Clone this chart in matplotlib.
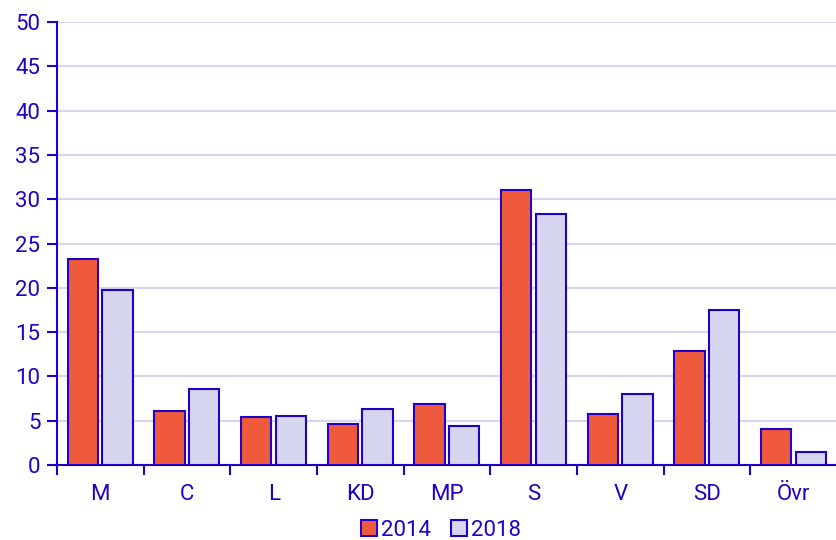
import numpy as np
import matplotlib
matplotlib.use('Agg')
from matplotlib import pyplot as plt

parties = ['M', 'C', 'L', 'KD', 'MP', 'S', 'V', 'SD', 'Övr']
val_2014 = [23.3, 6.1, 5.4, 4.6, 6.9, 31.0, 5.7, 12.9, 4.1]
val_2018 = [19.8, 8.6, 5.5, 6.3, 4.4, 28.3, 8.0, 17.5, 1.5]

blue = '#2200c8'
red = '#ef5a3c'
lav = '#d5d5f0'
fs = 16

plt.rcParams['font.family'] = ['Roboto', 'DejaVu Sans']
fig = plt.figure(figsize=(8.37, 5.40), dpi=100)
ax = fig.add_axes([57 / 837, 1 - 465 / 540, 1 - 57 / 837, (465 - 22) / 540])

x = np.arange(len(parties))
w = 0.35
ax.bar(x - 0.2, val_2014, w, color=red, edgecolor=blue, linewidth=1.5, label='2014', zorder=3)
ax.bar(x + 0.2, val_2018, w, color=lav, edgecolor=blue, linewidth=1.5, label='2018', zorder=3)

ax.set_xlim(-0.5, len(parties) - 0.5)
ax.set_ylim(0, 50)
ax.set_yticks(range(0, 51, 5))
ax.yaxis.grid(True, color='#d6d6f2', linewidth=1.5, zorder=0)
ax.set_axisbelow(True)

ax.set_xticks(np.arange(-0.5, len(parties) - 0.5, 1))
ax.set_xticklabels([])
ax.set_xticks(x, minor=True)
ax.set_xticklabels(parties, minor=True)
ax.tick_params(axis='x', which='minor', length=0, pad=14, labelsize=fs, labelcolor=blue)
ax.tick_params(axis='x', which='major', length=7, width=1.5, color=blue)
ax.tick_params(axis='y', length=7, width=1.5, color=blue, labelsize=fs, labelcolor=blue, pad=5)

for s in ['top', 'right']:
    ax.spines[s].set_visible(False)
for s in ['left', 'bottom']:
    ax.spines[s].set_color(blue)
    ax.spines[s].set_linewidth(1.5)

leg = fig.legend(loc='center', bbox_to_anchor=(0.527, 1 - 530 / 540), ncol=2, frameon=False,
                 fontsize=fs, handlelength=0.7, handleheight=0.7, handletextpad=0.2,
                 columnspacing=0.9, borderpad=0)
for t in leg.get_texts():
    t.set_color(blue)

plt.savefig('out.png', dpi=100)
